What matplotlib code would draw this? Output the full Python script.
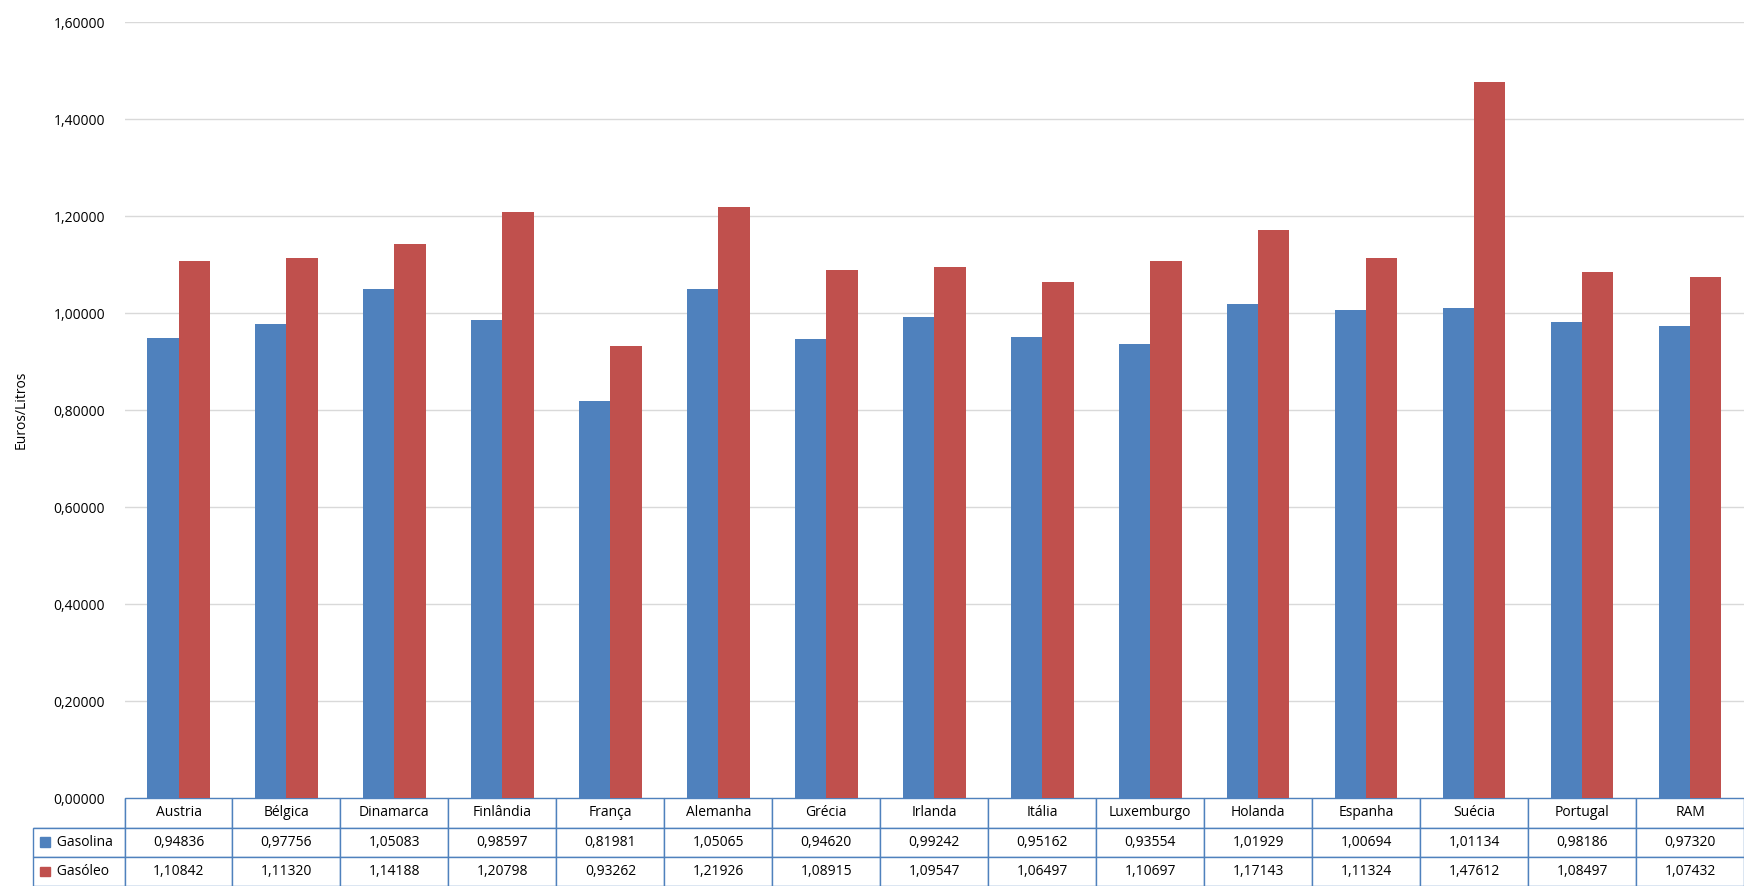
import matplotlib.pyplot as plt
import numpy as np
from matplotlib.patches import Rectangle
from matplotlib.ticker import FuncFormatter

plt.rcParams['font.family'] = ['Open Sans', 'DejaVu Sans']

countries = ["Austria", "Bélgica", "Dinamarca", "Finlândia", "França", "Alemanha", "Grécia",
             "Irlanda", "Itália", "Luxemburgo", "Holanda", "Espanha", "Suécia", "Portugal", "RAM"]
gasolina = [0.94836, 0.97756, 1.05083, 0.98597, 0.81981, 1.05065, 0.94620, 0.99242,
            0.95162, 0.93554, 1.01929, 1.00694, 1.01134, 0.98186, 0.97320]
gasoleo = [1.10842, 1.11320, 1.14188, 1.20798, 0.93262, 1.21926, 1.08915, 1.09547,
           1.06497, 1.10697, 1.17143, 1.11324, 1.47612, 1.08497, 1.07432]
series_names = ["Gasolina", "Gasóleo"]
colors = ["#4F81BD", "#C0504D"]

fig = plt.figure(figsize=(17.44, 8.86), dpi=100)
ax = fig.add_axes([0.0714, 0.099, 0.9286, 0.876])

x = np.arange(len(countries))
w = 0.29
ax.bar(x - w / 2, gasolina, w, color=colors[0], zorder=3)
ax.bar(x + w / 2, gasoleo, w, color=colors[1], zorder=3)

ax.set_xlim(-0.5, len(countries) - 0.5)
ax.set_ylim(0, 1.6)
ax.set_yticks(np.arange(0, 1.61, 0.2))
ax.yaxis.set_major_formatter(FuncFormatter(lambda v, p: f"{v:.5f}".replace(".", ",")))
ax.tick_params(axis='y', length=0, labelsize=10, pad=14)
ax.set_xticks([])
ax.grid(axis='y', color='#D9D9D9', linewidth=1, zorder=0)
for s in ['top', 'right', 'left', 'bottom']:
    ax.spines[s].set_visible(False)
ax.set_ylabel("Euros/Litros", fontsize=10, labelpad=18)

fmt = lambda v: f"{v:.5f}".replace(".", ",")
cells = [[""] + countries,
         ["      " + series_names[0]] + [fmt(v) for v in gasolina],
         ["      " + series_names[1]] + [fmt(v) for v in gasoleo]]
lw = 0.0563
widths = [lw] + [1.0 / len(countries)] * len(countries)
th = 0.113
tbl = ax.table(cellText=cells, colWidths=widths, cellLoc='center',
               bbox=[-lw, -th, 1 + lw, th])
tbl.auto_set_font_size(False)
tbl.set_fontsize(10)
for (r, c), cell in tbl.get_celld().items():
    cell.set_edgecolor('#4F81BD')
    cell.set_linewidth(1)
    if c == 0:
        cell.get_text().set_ha('left')
        cell._loc = 'left'
        cell.PAD = 0.02
    if r == 0 and c == 0:
        cell.visible_edges = 'BR'
for i, col in enumerate(colors):
    yc = -th + th / 3 * (1.5 - i) - 0.006
    ax.add_patch(Rectangle((-lw + 0.004, yc), 0.006, 0.012, transform=ax.transAxes,
                           color=col, clip_on=False))

fig.savefig("out.png", dpi=100)
